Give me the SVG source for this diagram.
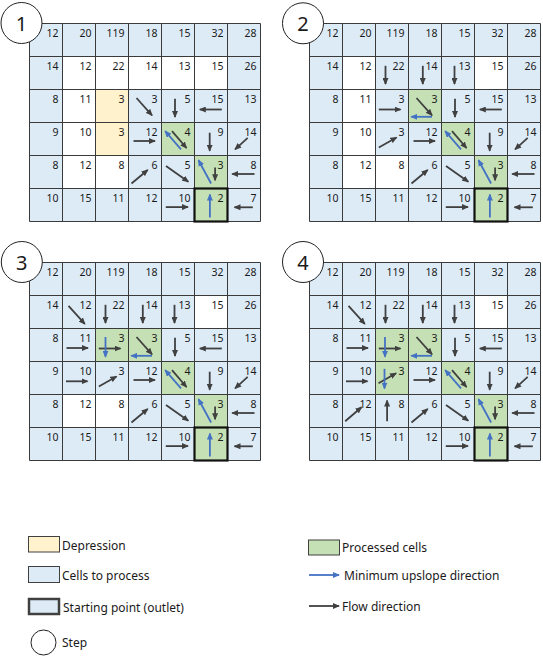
<svg xmlns="http://www.w3.org/2000/svg" width="543" height="669" viewBox="0 0 543 669">
<style>
.bg{fill:#DDEBF7}
.wh{fill:#FFFFFF}
.ye{fill:#FFF2CC}
.gr{fill:#C5E0B4}
.gl{fill:none;stroke:#3A3A3A;stroke-width:1}
.ol{fill:none;stroke:#111111;stroke-width:2.2}
.n{font-family:"Noto Sans","Open Sans","DejaVu Sans",sans-serif;font-size:10.5px;fill:#1A1A1A;text-anchor:end}
.lg{font-family:"Noto Sans","Open Sans","DejaVu Sans",sans-serif;font-size:12px;fill:#1A1A1A}
.st{font-family:"Noto Sans","Open Sans","DejaVu Sans",sans-serif;font-size:20px;fill:#1A1A1A;text-anchor:middle}
.sc{fill:#FFFFFF;stroke:#222222;stroke-width:1}
.f{stroke:#404040;stroke-width:1.8;fill:none;marker-end:url(#ad)}
.b{stroke:#4472C4;stroke-width:1.8;fill:none;marker-end:url(#ab)}
.lb{stroke:#404040;stroke-width:1}
</style>
<defs>
<marker id="ad" viewBox="0 0 7 6" refX="6" refY="3" markerWidth="7" markerHeight="6" markerUnits="userSpaceOnUse" orient="auto"><path d="M0,0L7,3L0,6z" fill="#404040"/></marker>
<marker id="ab" viewBox="0 0 7 6" refX="6" refY="3" markerWidth="7" markerHeight="6" markerUnits="userSpaceOnUse" orient="auto"><path d="M0,0L7,3L0,6z" fill="#4472C4"/></marker>
<path id="gridlines" d="M33,0V198M66,0V198M99,0V198M132,0V198M165,0V198M198,0V198M0,33H231M0,66H231M0,99H231M0,132H231M0,165H231M0,0H231V198H0Z"/>
</defs>

<!-- Grid 1 -->
<g id="grid1" transform="translate(29.5,23.5)">
<rect class="bg" x="0" y="0" width="231" height="198"/>
<rect class="wh" x="33" y="33" width="165" height="33"/>
<rect class="wh" x="33" y="66" width="33" height="99"/>
<rect class="wh" x="66" y="132" width="33" height="33"/>
<rect class="ye" x="66" y="66" width="33" height="66"/>
<rect class="gr" x="132" y="99" width="33" height="33"/>
<rect class="gr" x="165" y="132" width="33" height="33"/>
<rect class="gr" x="165" y="165" width="33" height="33"/>
<use href="#gridlines" class="gl"/>
<rect class="ol" x="165" y="165" width="33" height="33"/>
<text class="n" x="29" y="13">12</text><text class="n" x="62" y="13">20</text><text class="n" x="95" y="13">119</text><text class="n" x="128" y="13">18</text><text class="n" x="161" y="13">15</text><text class="n" x="194" y="13">32</text><text class="n" x="227" y="13">28</text>
<text class="n" x="29" y="46">14</text><text class="n" x="62" y="46">12</text><text class="n" x="95" y="46">22</text><text class="n" x="128" y="46">14</text><text class="n" x="161" y="46">13</text><text class="n" x="194" y="46">15</text><text class="n" x="227" y="46">26</text>
<text class="n" x="29" y="79">8</text><text class="n" x="62" y="79">11</text><text class="n" x="95" y="79">3</text><text class="n" x="128" y="79">3</text><text class="n" x="161" y="79">5</text><text class="n" x="194" y="79">15</text><text class="n" x="227" y="79">13</text>
<text class="n" x="29" y="112">9</text><text class="n" x="62" y="112">10</text><text class="n" x="95" y="112">3</text><text class="n" x="128" y="112">12</text><text class="n" x="161" y="112">4</text><text class="n" x="194" y="112">9</text><text class="n" x="227" y="112">14</text>
<text class="n" x="29" y="145">8</text><text class="n" x="62" y="145">12</text><text class="n" x="95" y="145">8</text><text class="n" x="128" y="145">6</text><text class="n" x="161" y="145">5</text><text class="n" x="194" y="145">3</text><text class="n" x="227" y="145">8</text>
<text class="n" x="29" y="178">10</text><text class="n" x="62" y="178">15</text><text class="n" x="95" y="178">11</text><text class="n" x="128" y="178">12</text><text class="n" x="161" y="178">10</text><text class="n" x="194" y="178">2</text><text class="n" x="227" y="178">7</text>
</g>

<!-- Grid 2 -->
<g id="grid2" transform="translate(309.5,23.5)">
<rect class="bg" x="0" y="0" width="231" height="198"/>
<rect class="wh" x="33" y="33" width="33" height="33"/>
<rect class="wh" x="165" y="33" width="33" height="33"/>
<rect class="wh" x="33" y="66" width="33" height="99"/>
<rect class="wh" x="66" y="132" width="33" height="33"/>
<rect class="gr" x="99" y="66" width="33" height="33"/>
<rect class="gr" x="132" y="99" width="33" height="33"/>
<rect class="gr" x="165" y="132" width="33" height="33"/>
<rect class="gr" x="165" y="165" width="33" height="33"/>
<use href="#gridlines" class="gl"/>
<rect class="ol" x="165" y="165" width="33" height="33"/>
<text class="n" x="29" y="13">12</text><text class="n" x="62" y="13">20</text><text class="n" x="95" y="13">119</text><text class="n" x="128" y="13">18</text><text class="n" x="161" y="13">15</text><text class="n" x="194" y="13">32</text><text class="n" x="227" y="13">28</text>
<text class="n" x="29" y="46">14</text><text class="n" x="62" y="46">12</text><text class="n" x="95" y="46">22</text><text class="n" x="128" y="46">14</text><text class="n" x="161" y="46">13</text><text class="n" x="194" y="46">15</text><text class="n" x="227" y="46">26</text>
<text class="n" x="29" y="79">8</text><text class="n" x="62" y="79">11</text><text class="n" x="95" y="79">3</text><text class="n" x="128" y="79">3</text><text class="n" x="161" y="79">5</text><text class="n" x="194" y="79">15</text><text class="n" x="227" y="79">13</text>
<text class="n" x="29" y="112">9</text><text class="n" x="62" y="112">10</text><text class="n" x="95" y="112">3</text><text class="n" x="128" y="112">12</text><text class="n" x="161" y="112">4</text><text class="n" x="194" y="112">9</text><text class="n" x="227" y="112">14</text>
<text class="n" x="29" y="145">8</text><text class="n" x="62" y="145">12</text><text class="n" x="95" y="145">8</text><text class="n" x="128" y="145">6</text><text class="n" x="161" y="145">5</text><text class="n" x="194" y="145">3</text><text class="n" x="227" y="145">8</text>
<text class="n" x="29" y="178">10</text><text class="n" x="62" y="178">15</text><text class="n" x="95" y="178">11</text><text class="n" x="128" y="178">12</text><text class="n" x="161" y="178">10</text><text class="n" x="194" y="178">2</text><text class="n" x="227" y="178">7</text>
</g>

<!-- Grid 3 -->
<g id="grid3" transform="translate(29.5,262.5)">
<rect class="bg" x="0" y="0" width="231" height="198"/>
<rect class="wh" x="165" y="33" width="33" height="33"/>
<rect class="wh" x="33" y="132" width="66" height="33"/>
<rect class="gr" x="66" y="66" width="66" height="33"/>
<rect class="gr" x="132" y="99" width="33" height="33"/>
<rect class="gr" x="165" y="132" width="33" height="33"/>
<rect class="gr" x="165" y="165" width="33" height="33"/>
<use href="#gridlines" class="gl"/>
<rect class="ol" x="165" y="165" width="33" height="33"/>
<text class="n" x="29" y="13">12</text><text class="n" x="62" y="13">20</text><text class="n" x="95" y="13">119</text><text class="n" x="128" y="13">18</text><text class="n" x="161" y="13">15</text><text class="n" x="194" y="13">32</text><text class="n" x="227" y="13">28</text>
<text class="n" x="29" y="46">14</text><text class="n" x="62" y="46">12</text><text class="n" x="95" y="46">22</text><text class="n" x="128" y="46">14</text><text class="n" x="161" y="46">13</text><text class="n" x="194" y="46">15</text><text class="n" x="227" y="46">26</text>
<text class="n" x="29" y="79">8</text><text class="n" x="62" y="79">11</text><text class="n" x="95" y="79">3</text><text class="n" x="128" y="79">3</text><text class="n" x="161" y="79">5</text><text class="n" x="194" y="79">15</text><text class="n" x="227" y="79">13</text>
<text class="n" x="29" y="112">9</text><text class="n" x="62" y="112">10</text><text class="n" x="95" y="112">3</text><text class="n" x="128" y="112">12</text><text class="n" x="161" y="112">4</text><text class="n" x="194" y="112">9</text><text class="n" x="227" y="112">14</text>
<text class="n" x="29" y="145">8</text><text class="n" x="62" y="145">12</text><text class="n" x="95" y="145">8</text><text class="n" x="128" y="145">6</text><text class="n" x="161" y="145">5</text><text class="n" x="194" y="145">3</text><text class="n" x="227" y="145">8</text>
<text class="n" x="29" y="178">10</text><text class="n" x="62" y="178">15</text><text class="n" x="95" y="178">11</text><text class="n" x="128" y="178">12</text><text class="n" x="161" y="178">10</text><text class="n" x="194" y="178">2</text><text class="n" x="227" y="178">7</text>
</g>

<!-- Grid 4 -->
<g id="grid4" transform="translate(309.5,262.5)">
<rect class="bg" x="0" y="0" width="231" height="198"/>
<rect class="wh" x="165" y="33" width="33" height="33"/>
<rect class="gr" x="66" y="66" width="66" height="33"/>
<rect class="gr" x="66" y="99" width="33" height="33"/>
<rect class="gr" x="132" y="99" width="33" height="33"/>
<rect class="gr" x="165" y="132" width="33" height="33"/>
<rect class="gr" x="165" y="165" width="33" height="33"/>
<use href="#gridlines" class="gl"/>
<rect class="ol" x="165" y="165" width="33" height="33"/>
<text class="n" x="29" y="13">12</text><text class="n" x="62" y="13">20</text><text class="n" x="95" y="13">119</text><text class="n" x="128" y="13">18</text><text class="n" x="161" y="13">15</text><text class="n" x="194" y="13">32</text><text class="n" x="227" y="13">28</text>
<text class="n" x="29" y="46">14</text><text class="n" x="62" y="46">12</text><text class="n" x="95" y="46">22</text><text class="n" x="128" y="46">14</text><text class="n" x="161" y="46">13</text><text class="n" x="194" y="46">15</text><text class="n" x="227" y="46">26</text>
<text class="n" x="29" y="79">8</text><text class="n" x="62" y="79">11</text><text class="n" x="95" y="79">3</text><text class="n" x="128" y="79">3</text><text class="n" x="161" y="79">5</text><text class="n" x="194" y="79">15</text><text class="n" x="227" y="79">13</text>
<text class="n" x="29" y="112">9</text><text class="n" x="62" y="112">10</text><text class="n" x="95" y="112">3</text><text class="n" x="128" y="112">12</text><text class="n" x="161" y="112">4</text><text class="n" x="194" y="112">9</text><text class="n" x="227" y="112">14</text>
<text class="n" x="29" y="145">8</text><text class="n" x="62" y="145">12</text><text class="n" x="95" y="145">8</text><text class="n" x="128" y="145">6</text><text class="n" x="161" y="145">5</text><text class="n" x="194" y="145">3</text><text class="n" x="227" y="145">8</text>
<text class="n" x="29" y="178">10</text><text class="n" x="62" y="178">15</text><text class="n" x="95" y="178">11</text><text class="n" x="128" y="178">12</text><text class="n" x="161" y="178">10</text><text class="n" x="194" y="178">2</text><text class="n" x="227" y="178">7</text>
</g>

<!-- Step circles -->
<g id="step1"><circle class="sc" cx="21.5" cy="23" r="20.5"/><text class="st" x="21.5" y="30.5">1</text></g>
<g id="step2"><circle class="sc" cx="303" cy="23.3" r="20.5"/><text class="st" x="303" y="30.8">2</text></g>
<g id="step3"><circle class="sc" cx="21.8" cy="262" r="20.5"/><text class="st" x="21.8" y="269.5">3</text></g>
<g id="step4"><circle class="sc" cx="303" cy="262" r="20.5"/><text class="st" x="303" y="269.5">4</text></g>

<!-- Connectors -->
<g id="connectors">
<g id="arrows1" transform="translate(29.5,23.5)">
<line class="f" x1="107" y1="74.5" x2="122.5" y2="91.8"/>
<line class="f" x1="145.5" y1="75.2" x2="145.5" y2="93.5"/>
<line class="f" x1="192.3" y1="86" x2="170.3" y2="86"/>
<line class="f" x1="104" y1="117.5" x2="125.5" y2="117.5"/>
<line class="f" x1="142.5" y1="107.7" x2="157" y2="124.5"/>
<line class="b" x1="151.5" y1="125.8" x2="135.7" y2="107.7"/>
<line class="f" x1="180.2" y1="109.2" x2="180.2" y2="127.3"/>
<line class="f" x1="218.2" y1="114.3" x2="205.6" y2="125.8"/>
<line class="f" x1="102" y1="160" x2="118.2" y2="146.5"/>
<line class="f" x1="136.5" y1="142.5" x2="158.8" y2="158.2"/>
<line class="f" x1="185.6" y1="144" x2="185.6" y2="156.8"/>
<line class="b" x1="181.6" y1="160" x2="169" y2="136.7"/>
<line class="f" x1="225" y1="150.5" x2="202.7" y2="150.5"/>
<line class="f" x1="136.3" y1="183.6" x2="158.5" y2="183.6"/>
<line class="b" x1="180.4" y1="194" x2="180.4" y2="171"/>
<line class="f" x1="223.3" y1="183.8" x2="205" y2="183.8"/>
</g>
<g id="arrows2" transform="translate(309.5,23.5)">
<line class="f" x1="107" y1="74.5" x2="122.5" y2="91.8"/>
<line class="f" x1="145.5" y1="75.2" x2="145.5" y2="93.5"/>
<line class="f" x1="192.3" y1="86" x2="170.3" y2="86"/>
<line class="f" x1="104" y1="117.5" x2="125.5" y2="117.5"/>
<line class="f" x1="142.5" y1="107.7" x2="157" y2="124.5"/>
<line class="b" x1="151.5" y1="125.8" x2="135.7" y2="107.7"/>
<line class="f" x1="180.2" y1="109.2" x2="180.2" y2="127.3"/>
<line class="f" x1="218.2" y1="114.3" x2="205.6" y2="125.8"/>
<line class="f" x1="102" y1="160" x2="118.2" y2="146.5"/>
<line class="f" x1="136.5" y1="142.5" x2="158.8" y2="158.2"/>
<line class="f" x1="185.6" y1="144" x2="185.6" y2="156.8"/>
<line class="b" x1="181.6" y1="160" x2="169" y2="136.7"/>
<line class="f" x1="225" y1="150.5" x2="202.7" y2="150.5"/>
<line class="f" x1="136.3" y1="183.6" x2="158.5" y2="183.6"/>
<line class="b" x1="180.4" y1="194" x2="180.4" y2="171"/>
<line class="f" x1="223.3" y1="183.8" x2="205" y2="183.8"/>
<line class="f" x1="76" y1="42.3" x2="76" y2="60.5"/>
<line class="f" x1="113.3" y1="42.3" x2="113.3" y2="60.5"/>
<line class="f" x1="145" y1="42.3" x2="145" y2="60.5"/>
<line class="f" x1="69.3" y1="86" x2="91" y2="86"/>
<line class="b" x1="122.5" y1="93.3" x2="101.8" y2="93.3"/>
<line class="f" x1="69.3" y1="124" x2="87" y2="114"/>
</g>
<g id="arrows3" transform="translate(29.5,262.5)">
<line class="f" x1="107" y1="74.5" x2="122.5" y2="91.8"/>
<line class="f" x1="145.5" y1="75.2" x2="145.5" y2="93.5"/>
<line class="f" x1="192.3" y1="86" x2="170.3" y2="86"/>
<line class="f" x1="104" y1="117.5" x2="125.5" y2="117.5"/>
<line class="f" x1="142.5" y1="107.7" x2="157" y2="124.5"/>
<line class="b" x1="151.5" y1="125.8" x2="135.7" y2="107.7"/>
<line class="f" x1="180.2" y1="109.2" x2="180.2" y2="127.3"/>
<line class="f" x1="218.2" y1="114.3" x2="205.6" y2="125.8"/>
<line class="f" x1="102" y1="160" x2="118.2" y2="146.5"/>
<line class="f" x1="136.5" y1="142.5" x2="158.8" y2="158.2"/>
<line class="f" x1="185.6" y1="144" x2="185.6" y2="156.8"/>
<line class="b" x1="181.6" y1="160" x2="169" y2="136.7"/>
<line class="f" x1="225" y1="150.5" x2="202.7" y2="150.5"/>
<line class="f" x1="136.3" y1="183.6" x2="158.5" y2="183.6"/>
<line class="b" x1="180.4" y1="194" x2="180.4" y2="171"/>
<line class="f" x1="223.3" y1="183.8" x2="205" y2="183.8"/>
<line class="f" x1="76" y1="42.3" x2="76" y2="60.5"/>
<line class="f" x1="113.3" y1="42.3" x2="113.3" y2="60.5"/>
<line class="f" x1="145" y1="42.3" x2="145" y2="60.5"/>
<line class="f" x1="69.3" y1="86" x2="91" y2="86"/>
<line class="b" x1="122.5" y1="93.3" x2="101.8" y2="93.3"/>
<line class="f" x1="69.3" y1="124" x2="87" y2="114"/>
<line class="f" x1="39" y1="43.3" x2="55.3" y2="61.4"/>
<line class="f" x1="37" y1="85.5" x2="58.5" y2="85.5"/>
<line class="b" x1="76" y1="74.5" x2="76" y2="94.3"/>
<line class="f" x1="36.5" y1="118.8" x2="58" y2="118.8"/>
</g>
<g id="arrows4" transform="translate(309.5,262.5)">
<line class="f" x1="107" y1="74.5" x2="122.5" y2="91.8"/>
<line class="f" x1="145.5" y1="75.2" x2="145.5" y2="93.5"/>
<line class="f" x1="192.3" y1="86" x2="170.3" y2="86"/>
<line class="f" x1="104" y1="117.5" x2="125.5" y2="117.5"/>
<line class="f" x1="142.5" y1="107.7" x2="157" y2="124.5"/>
<line class="b" x1="151.5" y1="125.8" x2="135.7" y2="107.7"/>
<line class="f" x1="180.2" y1="109.2" x2="180.2" y2="127.3"/>
<line class="f" x1="218.2" y1="114.3" x2="205.6" y2="125.8"/>
<line class="f" x1="102" y1="160" x2="118.2" y2="146.5"/>
<line class="f" x1="136.5" y1="142.5" x2="158.8" y2="158.2"/>
<line class="f" x1="185.6" y1="144" x2="185.6" y2="156.8"/>
<line class="b" x1="181.6" y1="160" x2="169" y2="136.7"/>
<line class="f" x1="225" y1="150.5" x2="202.7" y2="150.5"/>
<line class="f" x1="136.3" y1="183.6" x2="158.5" y2="183.6"/>
<line class="b" x1="180.4" y1="194" x2="180.4" y2="171"/>
<line class="f" x1="223.3" y1="183.8" x2="205" y2="183.8"/>
<line class="f" x1="76" y1="42.3" x2="76" y2="60.5"/>
<line class="f" x1="113.3" y1="42.3" x2="113.3" y2="60.5"/>
<line class="f" x1="145" y1="42.3" x2="145" y2="60.5"/>
<line class="f" x1="69.3" y1="86" x2="91" y2="86"/>
<line class="b" x1="122.5" y1="93.3" x2="101.8" y2="93.3"/>
<line class="f" x1="69" y1="120.7" x2="86.6" y2="110.7"/>
<line class="f" x1="39" y1="43.3" x2="55.3" y2="61.4"/>
<line class="f" x1="37" y1="85.5" x2="58.5" y2="85.5"/>
<line class="b" x1="75.5" y1="74.5" x2="75.5" y2="94.3"/>
<line class="f" x1="36.5" y1="118.8" x2="58" y2="118.8"/>
<line class="b" x1="75" y1="106.3" x2="75" y2="126"/>
<line class="f" x1="35.7" y1="158.7" x2="52" y2="144.7"/>
<line class="f" x1="77.6" y1="158.7" x2="77.6" y2="138"/>
</g>
</g>

<!-- Legend -->
<g id="legend-depression"><rect class="ye lb" x="28.5" y="536.5" width="31" height="15.5"/><text class="lg" x="62" y="550">Depression</text></g>
<g id="legend-cells"><rect class="bg lb" x="28.5" y="566.5" width="31" height="16"/><text class="lg" x="62" y="579.5">Cells to process</text></g>
<g id="legend-outlet"><rect class="bg" x="29" y="599" width="30" height="15" stroke="#404040" stroke-width="2.5"/><text class="lg" x="63" y="611.5">Starting point (outlet)</text></g>
<g id="legend-step"><circle class="sc" cx="43.5" cy="642.5" r="12.5"/><text class="lg" x="62" y="647">Step</text></g>
<g id="legend-processed"><rect class="gr lb" x="308.5" y="540" width="31" height="15"/><text class="lg" x="342" y="551.5">Processed cells</text></g>
<g id="legend-upslope"><line class="b" x1="309" y1="575" x2="339" y2="575"/><text class="lg" x="344" y="579.5">Minimum upslope direction</text></g>
<g id="legend-flow"><line class="f" x1="309" y1="606" x2="339" y2="606"/><text class="lg" x="342" y="610.5">Flow direction</text></g>
</svg>
